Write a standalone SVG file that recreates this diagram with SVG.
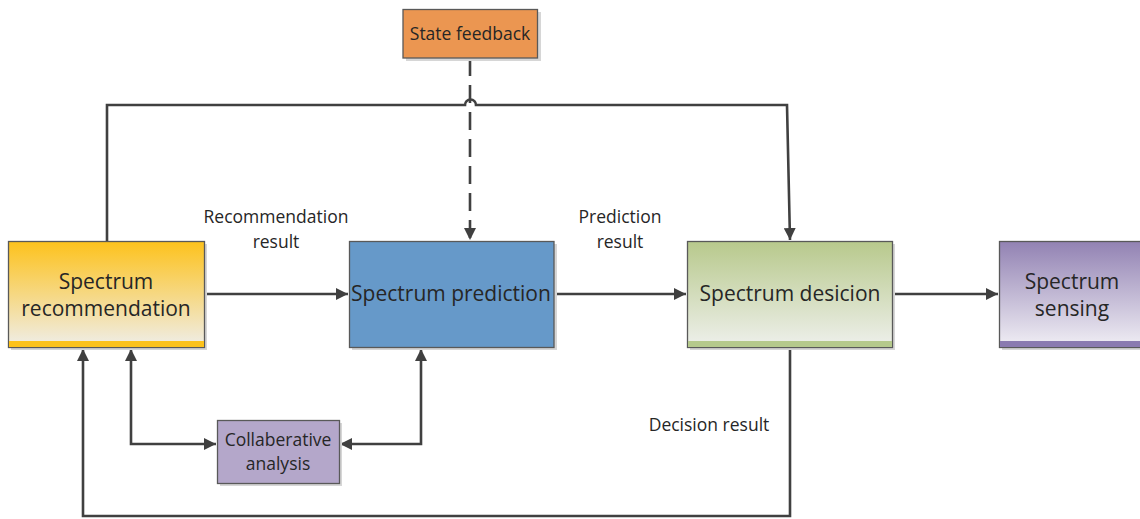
<svg xmlns="http://www.w3.org/2000/svg" width="1140" height="519" viewBox="0 0 1140 519">
<style>
text{font-family:"Open Sans","Noto Sans","Liberation Sans",sans-serif;fill:#262626;text-anchor:middle}
.big{font-size:21px}
.sm{font-size:17.5px}
.box{stroke:#595959;stroke-width:1.3}
.sh{fill:#d6d6d6}
.ln{fill:none;stroke:#404040;stroke-width:2.6}
</style>
<defs>
<marker id="ah" viewBox="0 0 12 12" refX="12" refY="6" markerWidth="12" markerHeight="12" markerUnits="userSpaceOnUse" orient="auto-start-reverse">
<path d="M0,0 L12,6 L0,12 z" fill="#404040"/>
</marker>
<linearGradient id="gy" x1="0" y1="0" x2="0" y2="1"><stop offset="0" stop-color="#fdc21c"/><stop offset="1" stop-color="#efeeea"/></linearGradient>
<linearGradient id="gg" x1="0" y1="0" x2="0" y2="1"><stop offset="0" stop-color="#b8c98c"/><stop offset="1" stop-color="#eef0ec"/></linearGradient>
<linearGradient id="gp" x1="0" y1="0" x2="0" y2="1"><stop offset="0" stop-color="#9282b3"/><stop offset="1" stop-color="#f1eff5"/></linearGradient>
</defs>

<g id="connectors">
<path class="ln" d="M107,241 V105 H465 A5.5,5.5 0 0 1 476,105 H787 L790,240" marker-end="url(#ah)"/>
<path class="ln" d="M470,58 V240" stroke-dasharray="18 9" marker-end="url(#ah)"/>
<path class="ln" d="M204,294 H348" marker-end="url(#ah)"/>
<path class="ln" d="M554,294 H686" marker-end="url(#ah)"/>
<path class="ln" d="M892,294 H998" marker-end="url(#ah)"/>
<path class="ln" d="M790,347 V516 H83 V349" marker-end="url(#ah)"/>
<path class="ln" d="M131,349 V444 H216" marker-start="url(#ah)" marker-end="url(#ah)"/>
<path class="ln" d="M421,349 V444 H340" marker-start="url(#ah)" marker-end="url(#ah)"/>
<text class="sm" x="276" y="223">Recommendation</text>
<text class="sm" x="276" y="248">result</text>
<text class="sm" x="620" y="223">Prediction</text>
<text class="sm" x="620" y="248">result</text>
<text class="sm" x="709" y="431">Decision result</text>
</g>

<g id="state-feedback">
<rect class="sh" x="406" y="12" width="135" height="49"/>
<rect class="box" x="403" y="9.5" width="134.5" height="48.5" fill="#eb9651"/>
<text class="sm" x="470" y="40">State feedback</text>
</g>

<g id="spectrum-recommendation">
<rect class="sh" x="11" y="244" width="196" height="106"/>
<rect class="box" x="8.5" y="241.5" width="196" height="106" fill="url(#gy)"/>
<rect x="9" y="341" width="195" height="6" fill="#fcc21b"/>
<text class="big" x="106" y="289">Spectrum</text>
<text class="big" x="106" y="316">recommendation</text>
</g>

<g id="spectrum-prediction">
<rect class="sh" x="352" y="244" width="205" height="106"/>
<rect class="box" x="349.5" y="241.5" width="204.5" height="106" fill="#6699c9"/>
<text class="big" x="451" y="301">Spectrum prediction</text>
</g>

<g id="spectrum-decision">
<rect class="sh" x="690" y="244" width="205" height="106"/>
<rect class="box" x="687.5" y="241.5" width="205" height="106" fill="url(#gg)"/>
<rect x="688" y="341" width="204" height="6" fill="#b5c98c"/>
<text class="big" x="790" y="301">Spectrum desicion</text>
</g>

<g id="spectrum-sensing">
<rect class="sh" x="1002" y="244" width="146" height="106"/>
<rect class="box" x="999.5" y="241.5" width="146" height="106" fill="url(#gp)"/>
<rect x="1000" y="341" width="145" height="6" fill="#8a7ab0"/>
<text class="big" x="1072" y="289">Spectrum</text>
<text class="big" x="1072" y="316">sensing</text>
</g>

<g id="collaberative-analysis">
<rect class="sh" x="220" y="423" width="122" height="63"/>
<rect class="box" x="217.5" y="420.5" width="122" height="63" fill="#b4a7ca"/>
<text class="sm" x="278" y="446">Collaberative</text>
<text class="sm" x="278" y="470">analysis</text>
</g>
</svg>
